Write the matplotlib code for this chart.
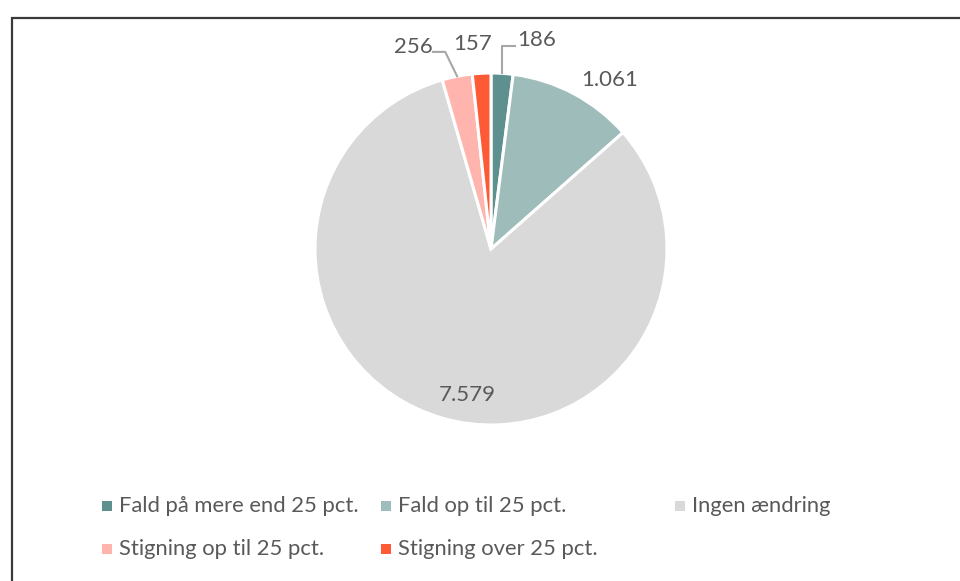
import matplotlib
matplotlib.use("Agg")
import matplotlib.pyplot as plt
from matplotlib.patches import Rectangle
import numpy as np

categories = ["Fald på mere end 25 pct.", "Fald op til 25 pct.", "Ingen ændring",
              "Stigning op til 25 pct.", "Stigning over 25 pct."]
values = [186, 1061, 7579, 256, 157]
value_labels = ["186", "1.061", "7.579", "256", "157"]
colors = ["#5f9090", "#9dbcba", "#d9d9d9", "#ffb4ae", "#ff5a36"]

W, H = 960, 581
fig = plt.figure(figsize=(W / 100, H / 100), dpi=100)
plt.rcParams['font.family'] = ['Lato', 'DejaVu Sans']

# chart frame
fig.patches.append(Rectangle((12 / W, -0.1), 1.1, (H - 18) / H + 0.1, transform=fig.transFigure,
                             fill=False, edgecolor="#3a3a3a", linewidth=1.6))

cx, cy, R = 491, 249, 176
ax = fig.add_axes([0, 0, 1, 1])
wedges, _ = ax.pie(values, colors=colors, startangle=90, counterclock=False, radius=1,
                   wedgeprops=dict(edgecolor="white", linewidth=2.2))
ax.set_xlim(-cx / R, (W - cx) / R)
ax.set_ylim(-(H - cy) / R, cy / R)
ax.set_aspect('auto')
ax.axis('off')

tc = "#595959"
fs = 16
# label placement in pie units (x, y)
label_xy = {0: (0.15, 1.19, "left"), 1: (0.676, 0.96, "center"), 2: (-0.136, -0.83, "center"),
            3: (-0.33, 1.145, "right"), 4: (-0.105, 1.165, "center")}
for i, (x, y, ha) in label_xy.items():
    ax.text(x, y, value_labels[i], ha=ha, va="center", fontsize=fs, color=tc)

# leader lines
def edge_point(w):
    th = np.radians((w.theta1 + w.theta2) / 2)
    return np.cos(th), np.sin(th)

ex, ey = edge_point(wedges[0])
ax.plot([ex, ex, 0.135], [ey, 1.155, 1.155], color="#a6a6a6", lw=1.5, clip_on=False)
ex, ey = edge_point(wedges[3])
ax.plot([ex, -0.26, -0.33], [ey, 1.12, 1.12], color="#a6a6a6", lw=1.5, clip_on=False)

# legend (manual, Excel-style grid)
leg_x = [107, 386, 680]
leg_y = [506, 549]
fsl = 15.8
for i, (cat, col) in enumerate(zip(categories, colors)):
    row, c = divmod(i, 3)
    x, y = leg_x[c], leg_y[row]
    fig.patches.append(Rectangle(((x - 5) / W, (H - y - 5) / H), 10 / W, 10 / H,
                                 transform=fig.transFigure, facecolor=col, edgecolor="none"))
    fig.text((x + 12) / W, (H - y) / H, cat, ha="left", va="center", fontsize=fsl, color=tc)

fig.savefig("out.png", dpi=100)
